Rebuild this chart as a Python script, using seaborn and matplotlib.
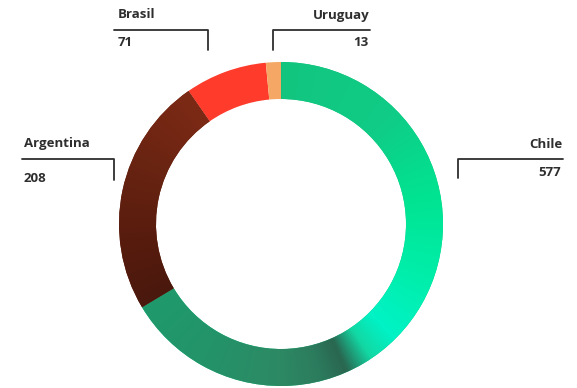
import numpy as np
import matplotlib
matplotlib.use("Agg")
import matplotlib.pyplot as plt
from matplotlib.colors import LinearSegmentedColormap
import seaborn as sns

# Data
countries = ["Chile", "Argentina", "Brasil", "Uruguay"]
counts = [577, 208, 71, 13]
value_labels = ["577", "208", "71", "13"]

sns.set_theme(style="white")
plt.rcParams["font.family"] = ["Open Sans", "DejaVu Sans"]

W, H = 577, 388
fig = plt.figure(figsize=(W / 100, H / 100), dpi=100)
ax = fig.add_axes([0, 0, 1, 1])

cx, cy = 281, H - 224
R, ring = 162, 37

base_colors = ["#12c57f", "#6a2412", "#ff3b2b", "#f5a865"]
wedges, _ = ax.pie(
    counts, colors=base_colors, startangle=90, counterclock=False,
    center=(cx, cy), radius=R, frame=True,
    wedgeprops=dict(width=ring, linewidth=0),
)

# Angular shading for the two large segments
total = sum(counts)
spans = np.cumsum([0] + [c / total * 360 for c in counts])

n = 700
xs = np.linspace(cx - R, cx + R, n)
ys = np.linspace(cy - R, cy + R, n)
X, Y = np.meshgrid(xs, ys)
sweep = (90 - np.degrees(np.arctan2(Y - cy, X - cx))) % 360

chile_stops = [
    (0, "#12c57f"), (45, "#10cc86"), (80, "#00e492"), (110, "#00eeaa"),
    (135, "#00f3c6"), (146, "#12d8a4"), (156, "#2a6650"), (166, "#2c7c5e"),
    (182, "#2c8a64"), (210, "#24936a"), (239, "#1f9a6c"),
]
arg_stops = [(0, "#4a180d"), (0.3, "#581c0e"), (0.65, "#6a2412"), (1.0, "#7c2a15")]


def shade(wedge, lo, hi, stops, scale):
    cmap = LinearSegmentedColormap.from_list(
        "seg", [(p / scale, c) for p, c in stops])
    t = np.clip((sweep - lo) / (hi - lo), 0, 1)
    im = ax.imshow(t, cmap=cmap, vmin=0, vmax=1, origin="lower",
                   extent=(cx - R, cx + R, cy - R, cy + R),
                   interpolation="bilinear", zorder=wedge.get_zorder() + 0.1)
    im.set_clip_path(wedge)


shade(wedges[0], spans[0], spans[1], chile_stops, chile_stops[-1][0])
# Argentina darkens toward the bottom (start of its sweep)
shade(wedges[1], spans[1], spans[2], arg_stops, 1.0)

ax.set_xlim(0, W)
ax.set_ylim(0, H)
ax.set_aspect("equal")
ax.axis("off")

ink = "#2e2e2e"
fs = 9.5
kw = dict(color=ink, fontsize=fs, fontweight="bold", va="center")
lw = 1.3


def y(v):
    return H - v


# Chile (right)
ax.plot([458, 458, 563], [y(178), y(159), y(159)], color=ink, lw=lw)
ax.text(562, y(144), countries[0], ha="right", **kw)
ax.text(561, y(173), value_labels[0], ha="right", **kw)

# Argentina (left)
ax.plot([22, 114, 114], [y(159), y(159), y(180)], color=ink, lw=lw)
ax.text(24, y(144), countries[1], ha="left", **kw)
ax.text(24, y(178), value_labels[1], ha="left", **kw)

# Brasil (top left)
ax.plot([114, 208, 208], [y(30), y(30), y(50)], color=ink, lw=lw)
ax.text(118, y(15), countries[2], ha="left", **kw)
ax.text(118, y(42), value_labels[2], ha="left", **kw)

# Uruguay (top right)
ax.plot([273, 273, 370], [y(50), y(30), y(30)], color=ink, lw=lw)
ax.text(370, y(15), countries[3], ha="right", **kw)
ax.text(368, y(43), value_labels[3], ha="right", **kw)

fig.savefig("out.png", dpi=100, facecolor="white")
